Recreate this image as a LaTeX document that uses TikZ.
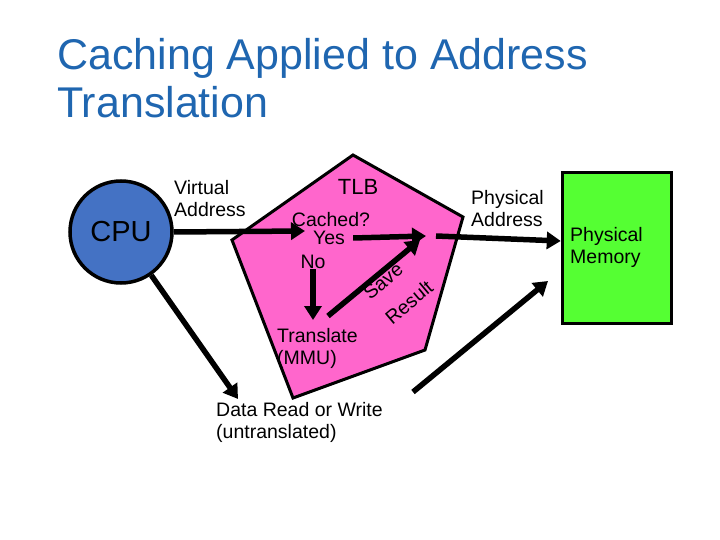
\documentclass[tikz,border=0pt]{standalone}
\usepackage{fontspec}
\setmainfont{Liberation Sans}
\usetikzlibrary{arrows.meta}
\definecolor{titleblue}{RGB}{31,102,176}
\definecolor{cpublue}{RGB}{68,114,196}
\definecolor{tlbpink}{RGB}{255,102,204}
\definecolor{memgreen}{RGB}{85,255,51}
\begin{document}
\begin{tikzpicture}[x=1pt,y=-1pt,
        label/.style={font=\fontsize{19.5}{22}\selectfont, align=left, inner sep=0pt},
        arrow/.style={draw, line width=5.5pt, -{Triangle[length=14pt,width=17pt]}},
        line/.style={draw, line width=5.5pt}
    ]
    \useasboundingbox (0,0) rectangle (720,540);

    % Title
    \node [anchor=north west, align=left, text=titleblue, font=\fontsize{43}{48}\selectfont, inner sep=0pt] (title) at (57,38) {Caching Applied to Address\\Translation};

    % Shapes
    \draw [line width=3pt, fill=tlbpink] (353,155) -- (463,217) -- (425,350) -- (293,398) -- (232,240) -- cycle;
    \node [circle, draw, line width=3.5pt, fill=cpublue, minimum size=102pt, font=\fontsize{29}{31}\selectfont] (cpu) at (121,232) {CPU};
    \node [rectangle, draw, line width=3.5pt, fill=memgreen, minimum width=109pt, minimum height=151pt] (mem) at (617,248) {};

    % Texts
    \node [label, anchor=north west] (virt) at (174,180) {Virtual\\Address};
    \node [label, font=\fontsize{22}{24}\selectfont] (tlb) at (358,187) {TLB};
    \node [label] (cached) at (331,220) {Cached?};
    \node [label] (yes) at (329,238) {Yes};
    \node [label] (no) at (313,262) {No};
    \node [label, anchor=north west] (translate) at (277,328) {Translate\\(MMU)};
    \node [label, rotate=40] (save) at (383,281) {Save};
    \node [label, rotate=40] (result) at (409,302) {Result};
    \node [label, anchor=north west] (physaddr) at (471,190) {Physical\\Address};
    \node [label, anchor=north west] (physmem) at (570,227) {Physical\\Memory};
    \node [label, anchor=north west] (data) at (216,402) {Data Read or Write\\(untranslated)};

    % Connections
    \coordinate (hit) at (426,236);
    \path [arrow] (cpu.east) -- (yes.north west -| 305,236);
    \path [arrow] (yes.east) ++(8pt,0) -- (hit);
    \path [arrow] (hit) ++(10pt,0) -- (mem.west |- 0,241);
    \path [arrow] (no.south) -- (313,320);
    \path [arrow] (328,316) -- ++(92,-76);
    \path [arrow] (cpu.-55) -- (238,399);
    \path [arrow] (413,392) -- ++(135,-111);
\end{tikzpicture}
\end{document}
